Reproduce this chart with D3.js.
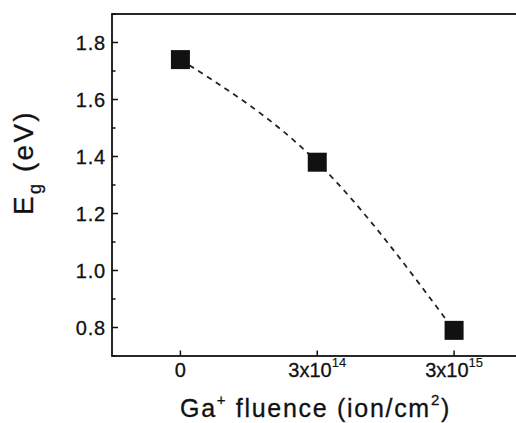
<!DOCTYPE html>
<html><head><meta charset="utf-8">
<script src="https://cdn.jsdelivr.net/npm/d3@7"></script>
<style>html,body{margin:0;padding:0;background:#fff;}svg{display:block;}</style>
</head><body>
<script>
const categories = ["0", "3x10^14", "3x10^15"];
const energyGap = [1.74, 1.38, 0.79];
const yTicks = [0.8, 1.0, 1.2, 1.4, 1.6, 1.8];
const yMinorTicks = [0.7, 0.9, 1.1, 1.3, 1.5, 1.7, 1.9];

(function () {
const W = 516, H = 423;
const svg = d3.select("body").append("svg").attr("width", W).attr("height", H);
const font = "Arial, 'Liberation Sans', sans-serif";

const pL = 112, pT = 14, pB = 356, pR = 522.5;
const x = d3.scaleLinear().domain([-0.5, categories.length - 0.5]).range([pL, pR]);
const y = d3.scaleLinear().domain([0.70, 1.90]).range([pB, pT]);

// frame
svg.append("rect").attr("x", pL).attr("y", pT).attr("width", pR - pL).attr("height", pB - pT)
  .attr("fill", "none").attr("stroke", "#111").attr("stroke-width", 1.8);

// y ticks (inward)
const gy = svg.append("g");
gy.selectAll("line.maj").data(yTicks).join("line").attr("class", "maj")
  .attr("x1", pL).attr("x2", pL + 6).attr("y1", d => y(d)).attr("y2", d => y(d))
  .attr("stroke", "#111").attr("stroke-width", 1.5);
gy.selectAll("line.min").data(yMinorTicks).join("line").attr("class", "min")
  .attr("x1", pL).attr("x2", pL + 3.5).attr("y1", d => y(d)).attr("y2", d => y(d))
  .attr("stroke", "#111").attr("stroke-width", 1.5);
gy.selectAll("text").data(yTicks).join("text")
  .attr("x", pL - 6).attr("y", d => y(d)).attr("dy", "0.36em")
  .attr("text-anchor", "end").attr("font-family", font).attr("font-size", 20).attr("letter-spacing", 0.8)
  .attr("fill", "#111").attr("stroke", "#111").attr("stroke-width", 0.3)
  .text(d => d.toFixed(1));

// x ticks (inward)
const gx = svg.append("g");
gx.selectAll("line").data(categories).join("line")
  .attr("x1", (d, i) => x(i)).attr("x2", (d, i) => x(i)).attr("y1", pB).attr("y2", pB - 5.5)
  .attr("stroke", "#111").attr("stroke-width", 1.5);
const xt = gx.selectAll("text").data(categories).join("text")
  .attr("x", (d, i) => x(i)).attr("y", 377)
  .attr("text-anchor", "middle").attr("font-family", font).attr("font-size", 20)
  .attr("fill", "#111").attr("stroke", "#111").attr("stroke-width", 0.3);
xt.each(function(d) {
  const t = d3.select(this);
  const parts = d.split("^");
  t.append("tspan").text(parts[0]);
  if (parts[1]) t.append("tspan").attr("font-size", 13).attr("dy", -10).attr("stroke-width", 0.15).text(parts[1]);
});

// dashed smooth line
const line = d3.line().x((d, i) => x(i)).y(d => y(d)).curve(d3.curveNatural);
svg.append("path").datum(energyGap).attr("d", line)
  .attr("fill", "none").attr("stroke", "#222").attr("stroke-width", 1.8).attr("stroke-dasharray", "5.5,5");

// square markers
const s = 19;
svg.selectAll("rect.pt").data(energyGap).join("rect").attr("class", "pt")
  .attr("x", (d, i) => x(i) - s / 2).attr("y", d => y(d) - s / 2)
  .attr("width", s).attr("height", s).attr("fill", "#111");

// x title
const xtTitle = svg.append("text").attr("x", 180).attr("y", 417)
  .attr("font-family", font).attr("font-size", 25).attr("letter-spacing", 1.7)
  .attr("fill", "#111").attr("stroke", "#111").attr("stroke-width", 0.3);
xtTitle.append("tspan").text("Ga");
xtTitle.append("tspan").attr("font-size", 15).attr("dy", -12).text("+");
xtTitle.append("tspan").attr("dy", 12).text(" fluence (ion/cm");
xtTitle.append("tspan").attr("font-size", 15).attr("dy", -12).text("2");
xtTitle.append("tspan").attr("dy", 12).text(")");

// y title
const ytTitle = svg.append("text").attr("transform", "translate(33,215) rotate(-90)")
  .attr("font-family", font).attr("font-size", 28).attr("letter-spacing", 2.2)
  .attr("fill", "#111").attr("stroke", "#111").attr("stroke-width", 0.3);
ytTitle.append("tspan").text("E");
ytTitle.append("tspan").attr("font-size", 18).attr("dy", 8).text("g");
ytTitle.append("tspan").attr("dy", -8).text(" (eV)");
})();
</script>
</body></html>
